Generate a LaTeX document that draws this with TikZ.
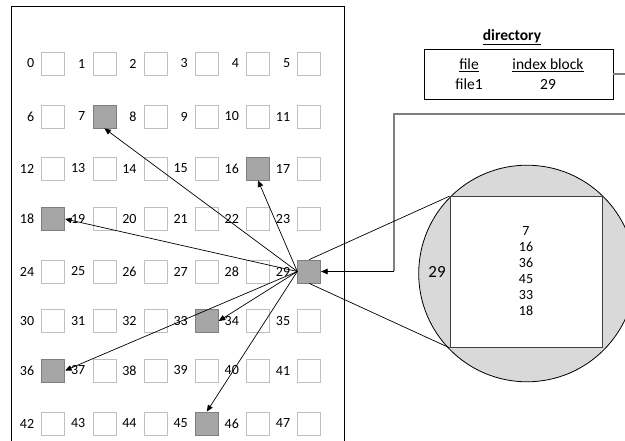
\documentclass[tikz,border=0pt]{standalone}
\usepackage{fontspec}
\setmainfont{Carlito}
\usetikzlibrary{arrows.meta}
\definecolor{blockedge}{HTML}{BFBFBF}
\definecolor{usedfill}{HTML}{A6A6A6}
\definecolor{usededge}{HTML}{7F7F7F}
\definecolor{diskfill}{HTML}{D9D9D9}
\definecolor{linkgray}{HTML}{7F7F7F}
\definecolor{idxedge}{HTML}{404040}
\begin{document}
\begin{tikzpicture}[x=1pt,y=-1pt,
  blk/.style={draw=blockedge, line width=0.8pt, fill=white, minimum size=23pt, inner sep=0pt},
  used/.style={blk, draw=usededge, fill=usedfill},
  num/.style={font=\fontsize{14}{16}\selectfont, inner sep=0pt, anchor=east},
  dirtext/.style={font=\fontsize{15.5}{18}\selectfont, inner sep=0pt},
  ptr/.style={-{Triangle[length=6.5pt,width=5.5pt]}, line width=0.7pt},
  link/.style={linkgray, line width=1.2pt},
]
\useasboundingbox (0,0) rectangle (625,441);
\clip (0,0) rectangle (625,441);

% disk outline (continues below the visible area)
\draw[line width=1pt] (11.5,450) |- (344,6.5) -- (344,450);

% disk blocks 0..47 with their numbers
\foreach \r/\yy in {0/63.5,1/116.5,2/168.5,3/219,4/271.5,5/321,6/370.5,7/423.5}{
  \foreach \c in {0,...,5}{
    \pgfmathtruncatemacro\n{6*\r+\c}
    \pgfmathtruncatemacro\isused{(\n==7)||(\n==16)||(\n==18)||(\n==29)||(\n==33)||(\n==36)||(\n==45)}
    \ifnum\isused=1 \def\bstyle{used}\else\def\bstyle{blk}\fi
    \node[\bstyle] (b\n) at (53.2+51.2*\c, \yy) {};
    \node[num] (l\n) at ([xshift=-7pt]b\n.west) {\n};
  }
}

% pointers held in the index block
\draw[ptr] (b29.west) -- (b7.south);
\draw[ptr] (b29.west) -- (b16.south);
\draw[ptr] (b29.west) -- (b18.east);
\draw[ptr] (b29.west) -- (b33.east);
\draw[ptr] (b29.west) -- (b36.east);
\draw[ptr] (b29.west) -- (b45.north);

% directory
\node[font=\bfseries\fontsize{15.5}{18}\selectfont, inner sep=0pt] (dirtitle) at (512,37) {\underline{directory}};
\node[draw, line width=0.8pt, minimum width=189pt, minimum height=50pt] (dir) at (518.5,74) {};
\node[dirtext] (hfile) at (469,65) {\underline{file}};
\node[dirtext] (hidx) at (548,65) {\underline{index block}};
\node[dirtext] (file1) at (469,84) {file1};
\node[dirtext] (idx29) at (548,84) {29};

% link from directory entry to index block 29
\coordinate (dirout) at (630,74);
\draw[link] (dir.east) -- (dirout);
\coordinate (idxin) at (630,114);
\coordinate (idxbend) at (394,271.5);
\draw[link] (idxin) -| (idxbend);
\draw[ptr] (idxbend) -- (b29.east);

% enlarged index block
\node[circle, draw, line width=0.8pt, fill=diskfill, minimum size=216.6pt, inner sep=0pt] (zoom29) at (527,273.5) {};
\node[draw=idxedge, line width=1.3pt, fill=white, minimum width=152pt, minimum height=150.5pt] (idx) at (526.3,272) {};
\node[align=center, font=\fontsize{14}{16.1}\selectfont, inner sep=0pt] (lst) at (526,271) {7\\16\\36\\45\\33\\18};
\node[font=\fontsize{17}{20}\selectfont, inner sep=0pt] (c29) at (437,272) {29};
\draw[line width=0.7pt] (b29.north) -- (idx.north west);
\draw[line width=0.7pt] (b29.south) -- (idx.south west);
\end{tikzpicture}
\end{document}
